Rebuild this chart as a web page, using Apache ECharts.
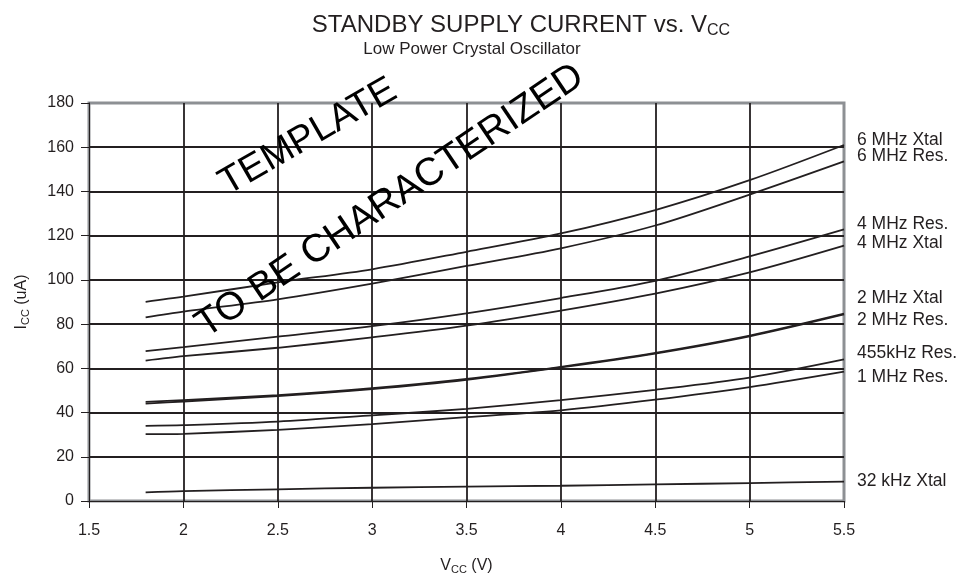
<!DOCTYPE html>
<html><head><meta charset="utf-8">
<script src="https://cdn.jsdelivr.net/npm/echarts@6/dist/echarts.min.js"></script>
<style>html,body{margin:0;padding:0;background:#fff}#c{width:976px;height:578px}</style>
</head><body><div id="c"></div>
<script>
// ---- data ----
const vcc      = [1.8, 2.0, 2.5, 3.0, 3.5, 4.0, 4.5, 5.0, 5.5];
const xtal6M   = [90.1, 92.4, 98.9, 104.8, 112.7, 121.0, 131.6, 145.1, 161.0];
const res6M    = [83.0, 85.6, 91.2, 98.3, 106.3, 114.3, 124.6, 138.6, 153.6];
const res4M    = [67.8, 69.6, 74.3, 79.1, 84.9, 91.8, 99.6, 110.6, 122.8];
const xtal4M   = [63.5, 65.5, 69.3, 74.0, 79.3, 86.1, 93.8, 103.4, 115.5];
const xtal2M   = [44.8, 45.6, 47.9, 51.0, 55.2, 60.7, 67.0, 74.8, 84.7];
const res2M    = [44.0, 45.0, 47.4, 50.6, 54.8, 60.4, 66.7, 74.5, 84.4];
const res455k  = [34.0, 34.3, 35.9, 38.7, 41.7, 45.6, 50.3, 55.8, 64.0];
const res1M    = [30.2, 30.4, 32.2, 34.8, 37.9, 41.0, 45.8, 51.5, 58.5];
const xtal32k  = [3.9, 4.5, 5.3, 6.0, 6.5, 6.9, 7.5, 8.1, 8.8];
const seriesNames = ['6 MHz Xtal','6 MHz Res.','4 MHz Res.','4 MHz Xtal','2 MHz Xtal','2 MHz Res.','455kHz Res.','1 MHz Res.','32 kHz Xtal'];
const seriesValues = [xtal6M, res6M, res4M, xtal4M, xtal2M, res2M, res455k, res1M, xtal32k];
const xTicks = [1.5, 2, 2.5, 3, 3.5, 4, 4.5, 5, 5.5];
const yTicks = [0, 20, 40, 60, 80, 100, 120, 140, 160, 180];

// ---- style ----
const FF = 'Liberation Sans, Arial, sans-serif';
const INK = '#231f20';
const labelShift = [-5, -5, -5, -2, -16, 6, -6, 6, 0];

const chart = echarts.init(document.getElementById('c'), null, {renderer: 'canvas'});
const series = seriesValues.map((vals, i) => ({
  name: seriesNames[i],
  type: 'line',
  smooth: 0.3,
  showSymbol: false,
  symbol: 'none',
  lineStyle: {color: INK, width: 1.8},
  data: vals.map((v, j) => [vcc[j], v]),
  endLabel: {
    show: true, formatter: seriesNames[i], distance: 13,
    offset: [0, labelShift[i]], fontSize: 17.5, fontFamily: FF, color: INK
  },
  z: 5
}));

chart.setOption({
  animation: false,
  backgroundColor: '#fff',
  title: [{
    text: '{a|STANDBY SUPPLY CURRENT vs. V}{b|CC}',
    left: 516, top: 7, textAlign: 'center',
    textStyle: {
      rich: {
        a: {fontSize: 24, fontWeight: 'normal', fontFamily: FF, color: INK, lineHeight: 27},
        b: {fontSize: 16, fontWeight: 'normal', fontFamily: FF, color: INK, verticalAlign: 'bottom', lineHeight: 18, padding: [7, 0, 0, 0]}
      }
    }
  }, {
    text: 'Low Power Crystal Oscillator',
    left: 467, top: 36, textAlign: 'center',
    textStyle: {fontSize: 17, fontWeight: 'normal', fontFamily: FF, color: INK}
  }],
  grid: {left: 89, right: 132, top: 103, bottom: 77, show: true, borderColor: '#8d9094', borderWidth: 3,
         containLabel: false, outerBoundsMode: 'none'},
  xAxis: {
    type: 'value', min: xTicks[0], max: xTicks[xTicks.length - 1], interval: 0.5,
    axisLine: {show: true, onZero: false, lineStyle: {color: INK, width: 1}},
    axisTick: {show: true, length: 7, lineStyle: {color: INK}},
    axisLabel: {fontSize: 16, fontFamily: FF, color: INK, margin: 22, formatter: v => String(v)},
    splitLine: {show: true, showMinLine: false, showMaxLine: false, lineStyle: {color: INK, width: 1.8}},
    name: '{a|V}{b|CC}{a| (V)}', nameLocation: 'middle', nameGap: 56,
    nameTextStyle: {rich: {
      a: {fontSize: 16, fontFamily: FF, color: INK, lineHeight: 18},
      b: {fontSize: 11, fontFamily: FF, color: INK, verticalAlign: 'bottom', lineHeight: 12, padding: [5, 0, 0, 0]}
    }}
  },
  yAxis: {
    type: 'value', min: yTicks[0], max: yTicks[yTicks.length - 1], interval: 20,
    axisLine: {show: true, lineStyle: {color: INK, width: 1}},
    axisTick: {show: true, length: 8, lineStyle: {color: INK}},
    axisLabel: {fontSize: 16, fontFamily: FF, color: INK, margin: 15},
    splitLine: {show: true, showMinLine: false, showMaxLine: false, lineStyle: {color: INK, width: 1.8}},
    name: '{a|I}{b|CC}{a| (uA)}', nameLocation: 'middle', nameGap: 58, nameRotate: 90,
    nameTextStyle: {rich: {
      a: {fontSize: 16, fontFamily: FF, color: INK, lineHeight: 18},
      b: {fontSize: 11, fontFamily: FF, color: INK, verticalAlign: 'bottom', lineHeight: 12, padding: [5, 0, 0, 0]}
    }}
  },
  graphic: [
    {type: 'text', x: 308, y: 137, rotation: 30 * Math.PI / 180, z: 100,
     style: {text: 'TEMPLATE', fontSize: 38, fontFamily: FF, fill: '#000', align: 'center', verticalAlign: 'middle', textAlign: 'center', textVerticalAlign: 'middle'}},
    {type: 'text', x: 390, y: 201, rotation: 34 * Math.PI / 180, z: 100,
     style: {text: 'TO BE CHARACTERIZED', fontSize: 39, fontFamily: FF, fill: '#000', align: 'center', verticalAlign: 'middle', textAlign: 'center', textVerticalAlign: 'middle'}}
  ],
  series: series
});
</script></body></html>
